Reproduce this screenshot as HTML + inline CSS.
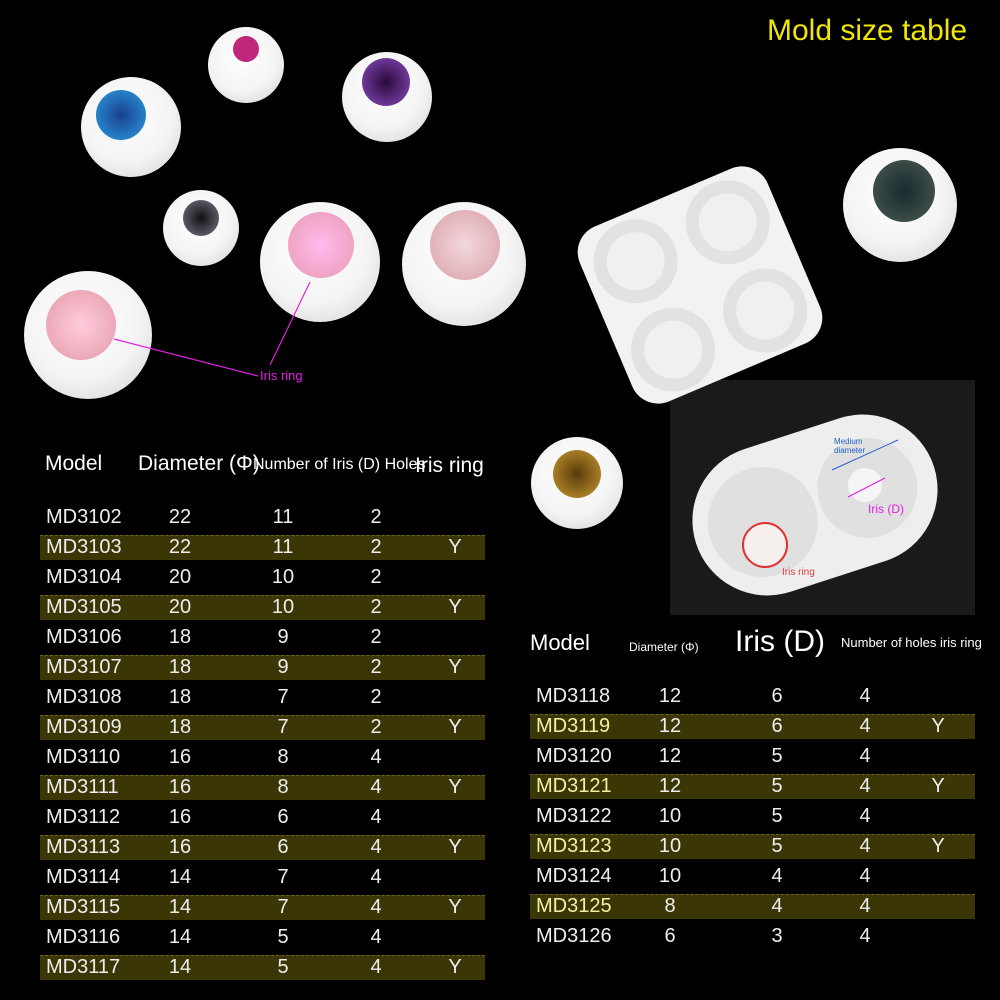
<!DOCTYPE html>
<html><head><meta charset="utf-8"><style>
body{margin:0;background:#000;width:1000px;height:1000px;position:relative;overflow:hidden;font-family:"Liberation Sans","Noto Sans CJK SC",sans-serif;color:#fff}
.a{position:absolute;white-space:nowrap}
.eye{position:absolute;border-radius:50%;background:radial-gradient(circle at 45% 40%,#fff 0%,#f4f4f4 55%,#cfcfcf 100%)}
.iris{position:absolute;border-radius:50%}
.band{position:absolute;background:#3a3606;height:24px;border-top:1px dashed #6a6420}
.r{position:absolute;font-size:20px;line-height:24px;color:#eee}
</style></head><body>
<div class="a" style="left:767px;top:14px;font-size:30px;color:#f2e600">Mold size table</div>

<div class="eye" style="left:208px;top:27px;width:76px;height:76px"></div><div class="iris" style="left:233px;top:36px;width:26px;height:26px;background:#c0267a"></div>
<div class="eye" style="left:81px;top:77px;width:100px;height:100px"></div><div class="iris" style="left:96px;top:90px;width:50px;height:50px;background:radial-gradient(#1a3f90,#2a9fe0)"></div>
<div class="eye" style="left:342px;top:52px;width:90px;height:90px"></div><div class="iris" style="left:362px;top:58px;width:48px;height:48px;background:radial-gradient(#2a0a3a,#8a4cc0)"></div>
<div class="eye" style="left:163px;top:190px;width:76px;height:76px"></div><div class="iris" style="left:183px;top:200px;width:36px;height:36px;background:radial-gradient(#111,#778)"></div>
<div class="eye" style="left:260px;top:202px;width:120px;height:120px"></div><div class="iris" style="left:288px;top:212px;width:66px;height:66px;background:radial-gradient(#fbe,#e89ab0)"></div>
<div class="eye" style="left:402px;top:202px;width:124px;height:124px"></div><div class="iris" style="left:430px;top:210px;width:70px;height:70px;background:radial-gradient(#f3d8dc,#d9a0a8)"></div>
<div class="eye" style="left:24px;top:271px;width:128px;height:128px"></div><div class="iris" style="left:46px;top:290px;width:70px;height:70px;background:radial-gradient(#fcd,#e49aa8)"></div>
<div class="eye" style="left:843px;top:148px;width:114px;height:114px"></div><div class="iris" style="left:873px;top:160px;width:62px;height:62px;background:radial-gradient(#1a2a30,#4a5a50)"></div>
<div class="eye" style="left:531px;top:437px;width:92px;height:92px"></div><div class="iris" style="left:553px;top:450px;width:48px;height:48px;background:radial-gradient(#5a3a0a,#c89a30)"></div>

<svg class="a" style="left:0;top:0" width="1000" height="1000">
<line x1="114" y1="339" x2="258" y2="376" stroke="#e020e0" stroke-width="1.2"/>
<line x1="310" y1="282" x2="270" y2="365" stroke="#e020e0" stroke-width="1.2"/>
<rect x="670" y="380" width="305" height="235" fill="#1a1a1a"/>
<g transform="rotate(-23 700 285)"><rect x="598" y="190" width="204" height="190" rx="28" fill="#f2f2f2"/>
<circle cx="650" cy="238" r="42" fill="#e2e2e2"/><circle cx="750" cy="238" r="42" fill="#e2e2e2"/><circle cx="650" cy="334" r="42" fill="#e2e2e2"/><circle cx="750" cy="334" r="42" fill="#e2e2e2"/>
<circle cx="650" cy="238" r="29" fill="#f0f0f0"/><circle cx="750" cy="238" r="29" fill="#f0f0f0"/><circle cx="650" cy="334" r="29" fill="#f0f0f0"/><circle cx="750" cy="334" r="29" fill="#f0f0f0"/></g>
<g transform="rotate(-18 815 505)"><rect x="690" y="430" width="250" height="150" rx="75" fill="#eeeeee"/>
<circle cx="760" cy="505" r="55" fill="#e0e0e0"/><circle cx="870" cy="505" r="50" fill="#e0e0e0"/></g>
<circle cx="765" cy="545" r="22" fill="#f5f0ee" stroke="#e03030" stroke-width="2"/>
<circle cx="865" cy="485" r="17" fill="#f5f5f5"/>
<line x1="832" y1="470" x2="898" y2="440" stroke="#2060d0"/>
<line x1="848" y1="497" x2="885" y2="478" stroke="#e020e0"/>
</svg>
<div class="a" style="left:260px;top:368px;font-size:13px;color:#e020e0">Iris ring</div>
<div class="a" style="left:834px;top:437px;font-size:8px;color:#2060d0">Medium<br>diameter</div>
<div class="a" style="left:868px;top:502px;font-size:12px;color:#e020e0">Iris (D)</div>
<div class="a" style="left:782px;top:567px;font-size:10px;color:#e04040">Iris ring</div>

<div class="a" style="left:45px;top:452px;font-size:21px">Model</div>
<div class="a" style="left:138px;top:452px;font-size:21px">Diameter (Φ)</div>
<div class="a" style="left:253px;top:456px;font-size:16px">Number of Iris (D) Holes</div>
<div class="a" style="left:415px;top:454px;font-size:21px">Iris ring</div>

<div class="a" style="left:530px;top:630px;font-size:22px">Model</div>
<div class="a" style="left:629px;top:640px;font-size:12px">Diameter (Φ)</div>
<div class="a" style="left:735px;top:625px;font-size:30px">Iris (D)</div>
<div class="a" style="left:841px;top:635px;font-size:13px">Number of holes iris ring</div>

<script>
var L=[["MD3102",22,11,2,""],["MD3103",22,11,2,"Y"],["MD3104",20,10,2,""],["MD3105",20,10,2,"Y"],["MD3106",18,9,2,""],["MD3107",18,9,2,"Y"],["MD3108",18,7,2,""],["MD3109",18,7,2,"Y"],["MD3110",16,8,4,""],["MD3111",16,8,4,"Y"],["MD3112",16,6,4,""],["MD3113",16,6,4,"Y"],["MD3114",14,7,4,""],["MD3115",14,7,4,"Y"],["MD3116",14,5,4,""],["MD3117",14,5,4,"Y"]];
var R=[["MD3118",12,6,4,""],["MD3119",12,6,4,"Y"],["MD3120",12,5,4,""],["MD3121",12,5,4,"Y"],["MD3122",10,5,4,""],["MD3123",10,5,4,"Y"],["MD3124",10,4,4,""],["MD3125",8,4,4,""],["MD3126",6,3,4,""]];
var h="";
function tbl(d,x0,y0,xs,hl){d.forEach(function(r,i){var y=y0+i*30;var b=hl(i);
if(b)h+='<div class="band" style="left:'+x0+'px;top:'+(y-12)+'px;width:445px"></div>';
for(var j=0;j<5;j++){var c=(j==0&&b&&x0>500)?'#f5f0a0':'#eee';h+='<div class="r" style="left:'+(xs[j]-(j?15:0))+'px;top:'+(y-12)+'px;width:'+(j?30:100)+'px;text-align:'+(j?'center':'left')+';color:'+c+'">'+r[j]+'</div>';}});}
tbl(L,40,517,[46,180,283,376,455],function(i){return i%2==1});
tbl(R,530,696,[536,670,777,865,938],function(i){return i==1||i==3||i==5||i==7});
document.body.insertAdjacentHTML('beforeend',h);
</script>
</body></html>
